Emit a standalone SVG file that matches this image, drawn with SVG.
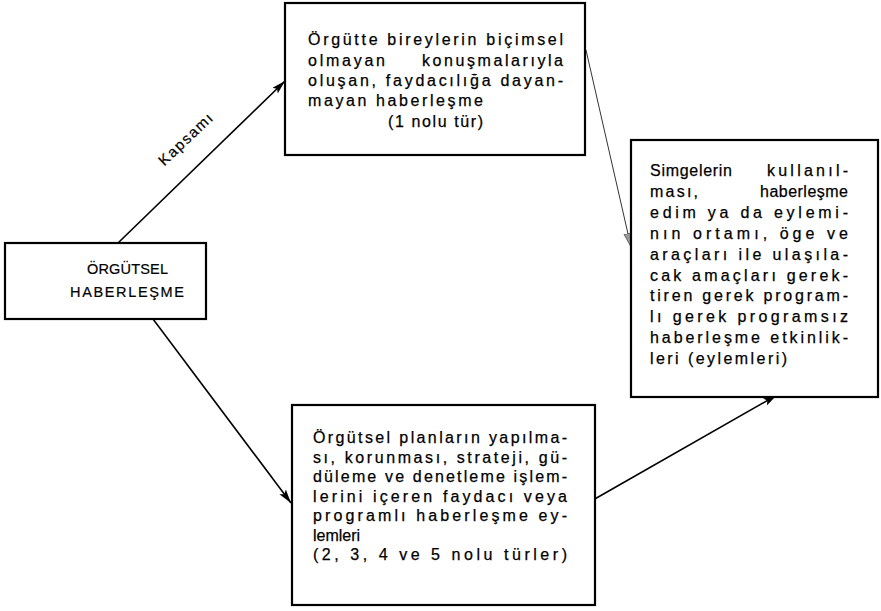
<svg xmlns="http://www.w3.org/2000/svg" width="881" height="611" viewBox="0 0 881 611">
<style>
.box{fill:#fff;stroke:#000;stroke-width:2.2}
.t{font-family:"Liberation Sans",Arial,sans-serif;font-size:16px;fill:#000;stroke:#000;stroke-width:0.25}
.lt{font-family:"Liberation Sans",Arial,sans-serif;font-size:14.5px;fill:#000;stroke:#000;stroke-width:0.2}
.c{fill:none;stroke:#000;stroke-width:1.6}
.thin{fill:none;stroke:#000;stroke-width:0.8}
</style>
<defs>
<marker id="ah" markerUnits="userSpaceOnUse" markerWidth="16" markerHeight="10" refX="14" refY="4" orient="auto">
<path d="M0,0 L14,4 L0,8 L3,4 z" fill="#000"/>
</marker>
<marker id="ahl" markerUnits="userSpaceOnUse" markerWidth="16" markerHeight="10" refX="14" refY="4" orient="auto">
<path d="M0,0 L14,4 L0,8 z" fill="#999" stroke="#333" stroke-width="0.6"/>
</marker>
</defs>

<g id="connectors">
<line class="c" x1="118" y1="243" x2="285" y2="81" marker-end="url(#ah)"/>
<text class="lt" style="font-size:15px" text-anchor="middle" transform="translate(189,143) rotate(-43.5)" textLength="68" lengthAdjust="spacing">Kapsamı</text>
<line class="c" x1="153" y1="319" x2="291" y2="503" marker-end="url(#ah)"/>
<line class="thin" x1="586" y1="50" x2="631" y2="247" marker-end="url(#ahl)"/>
<line class="c" x1="593" y1="500" x2="777" y2="395" marker-end="url(#ah)"/>
</g>

<g id="node-orgutsel">
<rect class="box" x="5" y="243" width="201" height="76"/>
<text class="lt" x="87" y="274" textLength="81" lengthAdjust="spacing">ÖRGÜTSEL</text>
<text class="lt" x="70" y="297" textLength="114" lengthAdjust="spacing">HABERLEŞME</text>
</g>

<g id="node-top">
<rect class="box" x="285" y="3" width="300" height="152"/>
<text class="t" x="308" y="45" textLength="255" lengthAdjust="spacing">Örgütte bireylerin biçimsel</text>
<text class="t" x="308" y="65.5" textLength="77" lengthAdjust="spacing">olmayan</text>
<text class="t" x="422" y="65.5" textLength="141" lengthAdjust="spacing">konuşmalarıyla</text>
<text class="t" x="308" y="86" textLength="255" lengthAdjust="spacing">oluşan, faydacılığa dayan-</text>
<text class="t" x="308" y="106" textLength="175" lengthAdjust="spacing">mayan haberleşme</text>
<text class="t" x="388" y="126.5" textLength="95" lengthAdjust="spacing">(1 nolu tür)</text>
</g>

<g id="node-right">
<rect class="box" x="631" y="140" width="247" height="257"/>
<text class="t" x="650" y="176" textLength="82" lengthAdjust="spacing">Simgelerin</text>
<text class="t" x="767" y="176" textLength="81" lengthAdjust="spacing">kullanıl-</text>
<text class="t" x="650" y="196.9" textLength="48" lengthAdjust="spacing">ması,</text>
<text class="t" x="760" y="196.9" textLength="88" lengthAdjust="spacing">haberleşme</text>
<text class="t" x="650" y="217.8" textLength="198" lengthAdjust="spacing">edim ya da eylemi-</text>
<text class="t" x="650" y="238.7" textLength="198" lengthAdjust="spacing">nın ortamı, öge ve</text>
<text class="t" x="650" y="259.6" textLength="198" lengthAdjust="spacing">araçları ile ulaşıla-</text>
<text class="t" x="650" y="280.5" textLength="198" lengthAdjust="spacing">cak amaçları gerek-</text>
<text class="t" x="650" y="301.4" textLength="198" lengthAdjust="spacing">tiren gerek program-</text>
<text class="t" x="650" y="322.3" textLength="198" lengthAdjust="spacing">lı gerek programsız</text>
<text class="t" x="650" y="343.2" textLength="198" lengthAdjust="spacing">haberleşme etkinlik-</text>
<text class="t" x="650" y="364.1" textLength="137" lengthAdjust="spacing">leri (eylemleri)</text>
</g>

<g id="node-bottom">
<rect class="box" x="292" y="405" width="303" height="200"/>
<text class="t" x="313" y="443" textLength="254" lengthAdjust="spacing">Örgütsel planların yapılma-</text>
<text class="t" x="313" y="462.5" textLength="254" lengthAdjust="spacing">sı, korunması, strateji, gü-</text>
<text class="t" x="313" y="482" textLength="254" lengthAdjust="spacing">düleme ve denetleme işlem-</text>
<text class="t" x="313" y="501.5" textLength="254" lengthAdjust="spacing">lerini içeren faydacı veya</text>
<text class="t" x="313" y="521" textLength="254" lengthAdjust="spacing">programlı haberleşme ey-</text>
<text class="t" x="313" y="540.5">lemleri</text>
<text class="t" x="313" y="560" textLength="254" lengthAdjust="spacing">(2, 3, 4 ve 5 nolu türler)</text>
</g>
</svg>
